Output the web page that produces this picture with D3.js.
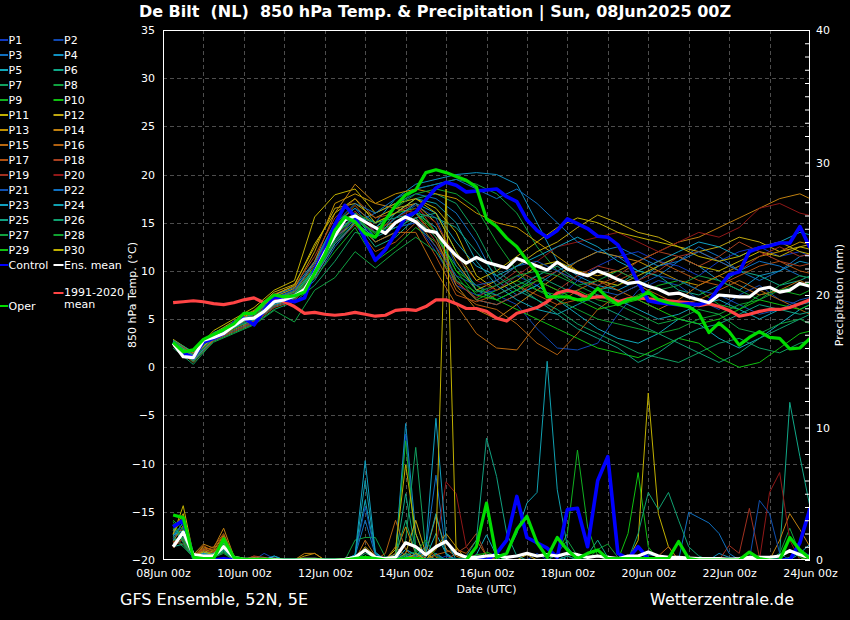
<!DOCTYPE html>
<html><head><meta charset="utf-8">
<script src="https://cdn.jsdelivr.net/npm/d3@7/dist/d3.min.js"></script>
<style>
html,body{margin:0;padding:0;background:#000;overflow:hidden}
svg{display:block}
text{font-family:"DejaVu Sans",sans-serif;fill:#fff}
</style></head><body>
<svg id="chart" width="850" height="620"></svg>
<script>
// ---------------- texts & ticks ----------------
const titleText = "De Bilt  (NL)  850 hPa Temp. & Precipitation | Sun, 08Jun2025 00Z";
const yLeftTitle = "850 hPa Temp. (°C)";
const yRightTitle = "Precipitation (mm)";
const xTitle = "Date (UTC)";
const footLeft = "GFS Ensemble, 52N, 5E";
const footRight = "Wetterzentrale.de";
const tempTicks = [-20,-15,-10,-5,0,5,10,15,20,25,30,35];
const precipTicks = [0,10,20,30,40];
const dateTicks = ["2025-06-08","2025-06-10","2025-06-12","2025-06-14","2025-06-16","2025-06-18","2025-06-20","2025-06-22","2025-06-24"];
const memberNames = ["P1","P2","P3","P4","P5","P6","P7","P8","P9","P10","P11","P12","P13","P14","P15","P16","P17","P18","P19","P20","P21","P22","P23","P24","P25","P26","P27","P28","P29","P30"];
const memberColors = ["#1038c0","#1048b0","#1070c0","#1090c0","#10a8b8","#10a888","#10a060","#10a040","#10b020","#10c010",
  "#c0b000","#c0a810","#c09000","#c08010","#b86810","#b06010","#b05010","#a84020","#a03020","#901818",
  "#1050b0","#1070c0","#10a0c0","#10a0b0","#10a080","#10a070","#10a040","#10a030","#10c010","#c0b000"];

// ---------------- highlighted series (6-hourly, 08Jun 06z .. 24Jun 00z) ----------------
const controlTemp = [2.6,1.5,1.0,2.6,3.0,3.5,4.6,5.1, 4.4,5.9,7.3,7.0,6.8,7.2,10.1,12.2, 14.8,16.8,15.6,13.2,11.1,12.2,13.9,15.6, 16.1,17.4,18.6,19.2,18.9,18.2,18.3,18.4,
  18.5,17.7,17.2,15.3,14.2,13.5,14.2,15.4, 14.9,14.4,13.6,13.5,12.7,10.9,8.8,6.9, 6.7,6.6,6.5,6.6,6.5,6.8,8.3,9.6, 9.9,12.0,12.4,12.6,12.9,12.9,14.6,12.4];
const operTemp = [2.6,1.6,1.8,2.9,3.4,3.9,4.5,5.6, 5.6,6.7,7.5,7.3,7.4,7.8,9.8,11.7, 14.2,15.6,15.1,13.9,13.5,15.3,16.8,17.9, 18.4,20.2,20.5,20.2,19.8,19.4,18.7,15.4,
  14.6,13.4,12.5,11.1,9.8,7.3,7.3,7.3, 7.0,7.1,8.2,7.2,6.5,7.0,7.2,7.8, 7.0,6.7,6.5,6.3,5.6,3.6,4.6,3.7, 2.3,3.1,3.7,3.1,3.0,1.9,2.0,3.0];
const meanTemp = [2.5,1.1,1.0,2.8,3.1,3.5,4.3,5.0, 5.1,5.8,6.8,7.0,7.4,8.1,9.8,11.9, 13.6,15.3,15.7,15.1,14.5,13.9,15.0,15.6, 15.1,14.2,14.0,12.7,11.6,10.8,11.4,10.9,
  10.6,10.3,11.3,10.9,10.5,10.1,10.9,10.2, 9.8,9.5,10.0,9.6,9.1,8.7,8.85,8.4, 8.1,7.6,7.7,7.3,7.0,6.7,7.5,7.4, 7.3,7.3,8.1,8.3,7.8,8.0,8.7,8.4];
const climTemp = [6.7,6.8,6.9,6.8,6.6,6.5,6.7,7.0, 7.2,6.7,7.2,6.8,6.3,5.6,5.7,5.5, 5.4,5.5,5.7,5.5,5.3,5.4,5.9,6.0, 5.9,6.3,7.0,7.0,6.6,6.1,6.1,5.8,
  5.1,4.8,5.6,5.9,6.2,6.8,7.7,8.0, 7.7,7.2,7.3,7.3,6.8,7.1,7.2,7.1, 7.0,6.9,6.8,6.7,6.4,6.6,6.3,5.9, 5.3,5.5,5.8,6.0,6.0,6.2,6.6,7.0];
const controlPrec = [2.5,3.0,0.2,0,0,0.1,0,0, 0,0,0,0,0,0,0,0, 0,0,0,0,0,0,0,0, 0,0,0,0,0,0,0,0,
  0.5,1.5,4.8,1.7,1.3,0.9,0.2,3.8, 3.9,1.0,6.0,7.8,0.5,0.1,1.0,0.1, 0,0,0,0,0,0,0,0, 0,0,0,0,0,0,1.3,3.9];
const operPrec = [3.4,3.2,0.2,0.1,0.1,1.6,0.2,0.05, 0.05,0.05,0,0,0,0,0,0, 0,0,0.1,0.2,0.1,0,0,0.1, 0.1,0,0,0,0,0,1.0,4.3,
  0.2,0.5,2.3,3.3,1.3,0.2,1.7,0.75, 0.1,0.5,0.75,0.1,0.1,0.1,0.1,0.1, 0.1,0.1,1.4,0.1,0,0,0,0, 0,0.6,0.1,0,0,1.7,0.75,0.1];
const meanPrec = [1.0,2.1,0.4,0.3,0.3,1.0,0.2,0.05, 0.05,0.05,0.05,0,0,0.05,0.05,0, 0,0.05,0.2,0.75,0.2,0.1,0.2,1.3, 1.0,0.4,1.0,1.4,0.5,0.2,0.2,0.3,
  0.35,0.2,0.3,0.5,0.3,0.4,0.3,0.5, 0.4,0.2,0.3,0.2,0.1,0.3,0.3,0.6, 0.3,0.2,0.2,0.15,0.1,0.1,0.1,0.05, 0.1,0.2,0.2,0.2,0.3,0.7,0.4,0.2];

// ---------------- perturbation temperatures (12-hourly, 08Jun 06z ..) ----------------
const P1_T  = [2.9,1.0,3.3,4.1,5.4,7.2,7.9,9.5,13.0,15.5,13.5,14.5,15.0,12.0,8.5,7.5,8.0,9.5,8.5,7.0,9.0,10.5,11.5,12.0,11.0,10.5,9.5,11.0,12.0,12.5,11.5,12.0,11.0];
const P2_T  = [2.6,1.4,3.5,4.6,5.6,7.4,8.1,10.8,14.8,16.5,14.0,15.5,16.8,15.5,10.5,8.5,7.5,6.5,4.0,2.0,1.8,2.5,5.5,8.0,9.0,8.5,7.0,6.0,7.5,8.5,7.0,6.5,7.5];
const P3_T  = [2.2,0.6,2.8,3.8,4.7,6.3,7.0,9.0,12.5,15.0,16.0,17.0,18.0,17.5,16.0,13.0,9.0,7.5,8.5,10.0,11.0,12.0,11.5,10.0,9.5,11.0,12.5,11.5,10.0,9.0,10.0,11.5,12.0];
const P4_T  = [2.7,1.2,3.6,4.5,5.7,7.5,8.3,11.0,15.0,16.5,15.0,17.5,19.0,19.5,20.0,20.2,20.0,19.0,15.0,11.0,9.5,8.5,8.0,9.0,10.5,11.5,10.5,9.0,8.0,9.5,10.0,11.0,10.5];
const P5_T  = [2.4,0.9,3.0,4.2,5.0,6.9,7.5,10.0,13.8,15.8,13.0,14.0,16.0,14.5,9.0,7.0,6.5,7.5,8.5,7.0,5.5,4.0,3.0,2.5,3.5,5.0,4.5,3.0,2.0,3.0,4.5,6.0,7.0];
const P6_T  = [2.8,1.5,3.2,4.4,5.5,7.0,7.6,10.2,14.0,15.2,12.5,13.5,15.5,16.0,12.0,8.0,7.0,8.0,9.5,10.5,9.0,8.0,8.5,10.0,9.5,8.0,7.5,8.5,10.0,9.5,8.5,9.0,10.0];
const P7_T  = [2.0,0.3,2.7,3.6,4.5,6.0,6.8,8.5,11.0,14.0,13.5,16.0,17.5,18.0,17.0,14.0,10.0,8.5,7.0,6.0,4.5,3.5,2.5,1.5,1.0,0.5,1.5,2.5,3.0,2.0,1.5,2.5,3.0];
const P8_T  = [2.5,1.0,3.1,4.3,5.2,6.6,7.3,9.6,13.2,15.5,14.5,16.5,18.5,19.0,19.5,19.0,18.0,16.0,12.5,10.0,8.5,7.5,6.5,5.5,4.5,5.0,6.0,5.5,4.0,3.5,4.5,5.0,4.0];
const P9_T  = [2.6,1.1,3.0,4.0,5.0,6.5,7.2,9.2,12.0,14.5,11.0,12.5,14.5,13.0,9.5,7.0,8.0,9.0,8.0,7.5,8.0,7.0,6.5,7.5,8.5,9.0,8.0,6.5,6.0,7.5,8.0,7.5,8.5];
const P10_T = [2.3,0.8,3.4,4.1,4.9,6.7,7.7,10.4,14.2,16.0,15.0,16.0,16.5,14.0,10.0,8.5,7.0,6.0,5.0,4.0,3.0,2.0,1.5,1.0,2.0,3.0,2.5,1.0,0.0,0.5,2.0,3.5,4.0];
const P11_T = [2.9,1.5,3.8,5.0,6.2,8.0,9.0,15.6,17.9,18.5,16.0,17.0,17.5,16.5,14.0,9.5,8.0,9.0,10.5,11.0,10.0,9.0,8.5,9.5,10.5,11.5,10.5,10.0,11.0,12.0,11.5,12.5,12.0];
const P12_T = [2.7,1.3,3.5,4.8,5.9,7.8,8.6,12.5,16.5,17.0,15.5,16.5,17.0,15.0,11.0,8.0,9.0,10.5,12.0,13.0,14.5,15.8,15.0,14.0,13.5,12.5,12.0,12.5,13.5,13.0,12.0,12.5,13.0];
const P13_T = [2.5,1.2,3.3,4.5,5.6,7.3,8.2,12.0,17.0,18.0,17.0,18.0,18.5,18.0,17.5,16.0,15.0,14.5,13.0,11.5,10.0,9.5,10.0,11.0,10.0,9.0,8.5,9.5,10.5,11.5,12.0,13.0,12.5];
const P14_T = [2.4,0.9,3.0,4.2,5.3,6.9,7.8,11.0,16.0,19.0,17.0,16.5,16.0,13.5,8.5,6.0,5.0,6.5,8.0,9.5,11.0,12.0,11.5,11.0,12.0,13.0,13.5,14.5,15.5,16.5,17.5,18.0,17.0];
const P15_T = [2.2,0.7,2.9,3.9,4.8,6.4,7.1,9.8,13.5,15.0,13.0,14.0,14.0,10.0,6.5,3.5,2.0,1.8,4.5,6.5,8.0,9.0,8.0,7.0,6.0,7.0,8.5,9.5,8.5,7.5,8.0,9.0,8.0];
const P16_T = [2.6,1.0,3.2,4.4,5.5,7.1,7.9,10.6,14.6,16.8,14.5,15.0,15.5,12.5,8.0,6.5,6.0,4.5,2.5,1.3,3.5,6.0,7.5,8.5,7.5,6.5,7.0,8.0,9.0,8.0,7.0,6.0,5.0];
const P17_T = [2.3,0.5,2.8,3.7,4.6,6.2,6.9,9.3,12.8,14.8,12.0,13.0,15.0,11.5,7.5,6.8,7.5,8.5,7.5,6.5,7.0,8.0,9.0,10.0,11.0,10.0,9.0,8.5,9.5,10.5,11.0,10.0,9.5];
const P18_T = [2.8,1.4,3.4,4.7,5.8,7.6,8.4,11.5,15.5,17.5,15.5,16.0,17.0,14.0,9.0,7.0,6.5,7.5,9.0,10.0,9.0,8.5,9.5,11.0,12.0,11.5,10.5,11.5,13.0,12.0,11.0,10.5,11.0];
const P19_T = [2.5,0.8,3.1,4.0,5.1,6.6,7.4,9.9,13.9,16.2,14.0,15.0,16.0,13.0,8.8,7.2,8.5,10.0,9.0,8.0,9.5,10.5,10.0,9.0,10.0,11.5,12.0,11.0,10.0,11.5,12.5,11.5,12.0];
const P20_T = [2.7,1.2,3.3,4.4,5.4,7.0,7.7,10.0,13.5,15.5,14.0,15.5,16.5,15.0,11.5,9.0,8.0,9.5,11.0,12.5,13.0,13.5,14.0,13.0,12.0,13.0,14.0,13.5,14.5,16.5,17.0,16.0,15.5];
const P21_T = [2.4,1.0,3.2,4.2,5.0,6.6,7.3,9.7,13.4,15.4,14.0,14.5,15.0,12.5,9.5,8.5,9.0,10.5,11.0,10.0,9.0,8.0,7.5,8.5,9.5,9.0,8.0,7.5,6.5,5.5,6.0,7.0,7.5];
const P22_T = [2.6,1.1,3.4,4.5,5.5,7.2,8.0,10.8,14.9,17.0,16.0,17.5,18.5,19.0,19.5,18.5,17.5,18.5,17.0,15.0,13.0,12.0,12.5,11.5,10.5,11.0,12.0,11.0,10.0,11.0,10.5,9.5,9.0];
const P23_T = [2.3,0.7,3.0,4.1,4.9,6.5,7.2,9.4,12.8,15.0,13.5,15.5,17.0,16.0,13.0,10.5,9.5,10.5,11.5,12.5,13.5,12.5,11.0,10.0,11.0,12.0,13.0,12.5,11.5,12.5,13.0,14.0,13.5];
const P24_T = [2.7,1.2,3.1,4.3,5.3,6.9,7.6,10.1,13.8,15.6,14.5,16.0,17.5,17.0,15.0,11.0,8.5,7.0,6.0,5.5,6.5,7.5,7.0,6.0,5.0,5.5,6.5,7.0,6.0,5.0,6.0,6.5,7.0];
const P25_T = [2.5,1.3,3.2,4.4,5.2,6.8,7.5,9.9,13.6,15.7,15.0,15.5,16.0,15.5,14.5,12.0,9.5,8.0,7.0,5.5,4.0,3.0,2.0,0.5,1.5,3.0,4.0,4.5,5.5,6.5,6.0,5.5,6.0];
const P26_T = [2.8,1.6,3.5,4.6,5.5,7.1,7.8,10.3,14.3,16.0,13.5,14.5,15.5,13.5,10.5,8.0,7.5,8.5,9.5,8.5,7.5,6.5,5.5,4.5,3.5,2.5,1.5,0.5,1.5,3.0,4.0,5.0,6.0];
const P27_T = [2.3,0.6,2.6,3.5,4.4,5.9,4.7,8.0,9.3,12.0,10.3,12.0,13.5,12.0,9.0,7.8,8.5,9.5,10.0,9.5,8.5,9.0,10.0,9.0,8.0,8.5,9.5,9.0,8.0,7.0,8.5,9.5,9.0];
const P28_T = [2.4,0.9,3.0,4.0,5.1,6.7,7.4,9.6,13.0,15.2,14.0,16.5,18.0,18.5,18.0,16.5,13.0,10.0,8.0,7.0,6.0,5.0,4.5,4.0,3.5,4.0,5.0,5.5,6.5,7.0,8.0,8.5,9.0];
const P29_T = [2.6,1.1,3.3,4.3,5.3,6.8,7.5,10.0,13.7,15.6,13.8,15.0,16.0,14.0,10.0,7.5,7.0,8.0,9.0,8.0,7.0,6.0,6.5,7.0,6.0,5.0,4.5,5.0,6.0,7.0,6.5,6.0,7.0];
const P30_T = [2.5,1.1,3.2,4.6,5.8,7.5,8.5,12.8,16.0,17.5,15.0,16.0,17.5,16.0,12.0,9.0,10.0,11.5,13.0,14.5,15.5,15.0,14.0,13.5,13.0,12.5,11.5,11.0,11.5,12.5,13.0,12.0,11.5];

// ---------------- perturbation precipitation (6-hourly, 08Jun 06z ..) ----------------
const P1_R  = [1.5,2.5,0.3,0.5,0.4,1.0,0.1,0, 0,0.1,0,0,0,0,0,0, 0,0,0,0,0,0,0.5,9.5, 1.0,0,0,0.3,0,0,0,0, 0,0,0,0,0.5,0,0,0, 0,0,0,0,0,0,0,0, 0,0,0,0,0,0,0,0, 0,0,0,0,0,0,0,0.5];
const P2_R  = [2.0,1.8,0.2,0.3,0.2,0.6,0.1,0, 0,0.5,0.1,0,0,0,0,0, 0,0,0,0,0,0,0,0.8, 0.3,0,0.4,0,0,0,0,0.3, 0,0,0,0,0,0,0,0, 0,0,0,0,0.2,0,0,0, 0,0,0,0,0,0,0,0, 0,0,0,0,0,0,0.8,0.3];
const P3_R  = [1.2,2.2,0.4,0.6,0.3,0.8,0,0, 0,0,0,0,0,0,0,0, 0,0,0.3,3.0,0.4,0,0,0.5, 0.2,0.8,6.4,0.5,0,0,0,0, 0,0,0,0,0,0,0,0.3, 0,0,0,0,0,0,0,0, 0,0,0,0,0,0,0,0, 0,0,0,0,0,0,0,0];
const P4_R  = [2.2,1.5,0.3,0.4,0.5,1.2,0.2,0, 0,0,0.3,0,0,0,0,0, 0,0,0,0.8,0,0.2,0.4,10.3, 2.0,0,0.5,0,0,0,0.3,0, 0,0,0,0,0,0,0.4,0, 0,0,0,0,0,0,0,0, 0,0,0,0,0,0,0.5,0.2, 0,0,0,0,0,0,0,0];
const P5_R  = [1.8,2.8,0.3,0.6,0.5,1.4,0.1,0, 0,0,0,0,0,0,0,0, 0,0,0.3,4.5,0.5,0,0,0.8, 0.4,0.2,2.0,0.5,0,0,0.4,1.9, 0.3,0,0,0,0,0,0,0, 0,0,0,0,0,0,0,0.4, 0.3,0,0,0,0,0,0,0, 0,0,0,0,0,0.2,0.6,0];
const P6_R  = [1.0,1.2,0.2,0.3,0.2,0.7,0.1,0, 0,0,0,0,0,0,0,0, 0,0,0,0,0,0,0.2,5.0, 0.6,0,0,0,0,0,0,0, 0,0,0,0,0,0,0,0, 0,0.4,1.5,0.2,0,0,0,0, 0,0,0,0,0,0,0,0, 0,0,0,0,0.5,11.9,7.8,4.0];
const P7_R  = [1.6,1.0,0.2,0.4,0.3,0.9,0.1,0, 0,0,0,0,0,0,0,0, 0,0,0,0.5,0.2,0,0,1.5, 8.5,0.6,0,0,0,0,0,0, 0,0,0,0,0,0,0,0.3, 0,0,0,0,0,0,0,0, 0,0,0,0,0,0,0,0, 0,0,0,0,0,0,0,0];
const P8_R  = [2.4,1.6,0.3,0.5,0.4,1.1,0.2,0, 0,0,0,0,0,0,0,0, 0,0,1.5,1.7,1.7,0.2,0,0, 0,0,0,0,0,0,0,0, 0,0,0,0,0,0,0,0, 0,0,0,0,0,0,0,0, 0,0,0,0,0,0,0,0, 0,0,0,0,0.5,2.4,0.5,0];
const P9_R  = [1.3,2.0,0.3,0.2,0.3,0.6,0,0, 0,0,0,0,0,0,0,0, 0,0,0,0,0,0,0.3,9.0, 0.8,0,0,0,0,0,0,0, 0,0,0,0,0,0,0.5,2.0, 8.3,2.5,0.3,0,0,0,0,0, 0,0,0,0,0,0,0,0, 0,0,0,0,0,0,0,0];
const P10_R = [2.7,1.4,0.2,0.3,0.2,0.8,0.1,0, 0,0,0,0,0,0,0,0, 0,0,0,0,0,0,0,0, 0,0,0,0,0,0,0.4,0.5, 0,0,0,0,0,0,0,0, 0,0,0,0,0,2.0,6.6,1.0, 0,0,0,0,0,0,0,0, 0,0,0,0,0,0,0,0];
const P11_R = [1.9,4.1,0.4,0.7,0.5,1.6,0.2,0, 0,0,0,0,0,0,0,0, 0,0,0,0,0,0,0.8,7.2, 2.0,0,0,0,0,0,0,0, 0,0,0,0,0,0,0,0, 0,0,0,0,0,0,1.5,12.6, 3.5,1.0,0,0,0,0,0,0, 0,0,0,0,0,0,0,0];
const P12_R = [2.2,3.5,0.3,0.8,0.6,1.3,0.1,0, 0,0,0,0,0,0,0,0, 0,0,0,1.0,0.3,0,0,0.5, 3.0,0.5,0,0,0,0,0,0, 0,0,0,0.4,0,0,0,0, 0,0,0,0,0,0,0,0, 0,0,0,0,0,0,0,0, 0,0,0,0,0,0,0,0.4];
const P13_R = [1.4,2.6,0.3,1.0,0.7,1.8,0.2,0, 0,0,0,0,0,0.3,0.5,0, 0,0,0,0,0,0,0.5,2.5, 0.5,0,0.8,2.0,1.0,0,0,0, 0,0,0,0,0,0,0,0, 0,0,0,0,0,0,0,0, 0,0,0,0,0,0,0,0, 0,0,0,0,0,0,0,0];
const P14_R = [1.1,1.9,0.4,1.2,0.9,2.4,0.3,0, 0,0,0,0,0,0.5,0.5,0, 0,0,0,0,0,0,1.0,0.3, 0.2,0.5,3.3,0.8,0.3,0,0,0, 0,0,0,0,0,0,0,0, 0,0,0,0,0,0,0,0, 0,0,0,0,0,0,0,0, 0,0,0,0,1.5,3.5,2.3,1.0];
const P15_R = [1.7,2.3,0.3,0.9,0.8,1.9,0.2,0, 0,0,0,0,0,0,0,0, 0,0,0,1.5,0.3,0,0,0, 0,0,0,0,0,0,0,0, 0,0,0,0,0,0,0,0, 0,0,0,0,0,0,0,0, 0,0,0,0,0,0,0,0, 0,0,0,0,0,0,0,0];
const P16_R = [1.3,2.0,0.2,0.7,1.0,2.0,0.3,0, 0,0,0,0,0,0,0,0, 0,0,0,0,0,0.5,3.0,0.8, 0,0,0.4,0.6,0.8,0.5,1.5,0.3, 0,0,0,0,0,0,0,0, 0,0,0,0,0,0,0,0, 0.3,1.0,0,0,0,0,0,0, 0,0,0,0,0,0,0,0];
const P17_R = [0.9,1.7,0.2,1.1,0.6,1.5,0.2,0, 0.2,0,0,0,0,0,0,0, 0,0,0,0,0,0,0,0, 0.3,1.0,0.2,0,0.5,0,0,0, 0,0,0,0,0,0,0,0, 0,0,0,0,0,0,0,0, 0,0,0,0,0,0,0,0, 0,0,0,0,0,0,0,0];
const P18_R = [1.0,2.1,0.3,0.8,0.5,1.7,0.1,0, 0.3,0.2,0,0,0,0,0,0, 0,0,0,0,0,0,0,0, 0,0,0,0,0.5,1.0,2.0,0.3, 0,0,0,0,0,0,0,0, 0,0,0,0,0,0,0,0, 0,0,0,0,0,0,0,0, 0,0,0,0,0,0,0,0];
const P19_R = [1.2,1.5,0.2,0.5,0.4,1.2,0.1,0, 0.3,0,0,0,0,0,0,0, 0,0,0,0,0,0,0,0, 0,0,0,0,0,0,0,0, 0,0,0,0,0,0,0,0, 0,0,0,0,0,0,0,0, 0,0,0,0,0,0,0,1.1, 0.5,3.9,0.2,0,0,0,0,0];
const P20_R = [1.4,1.2,0.2,0.4,0.3,0.9,0.1,0, 0,0,0,0,0,0,0,0, 0,0,0,0,0,0,0,0, 0,0.3,1.0,5.9,5.0,1.0,0,0, 0,0,0,0,0,0,0,0, 0,0,0,0,0,0,0,0, 0,0,0,0,0,0,0,0, 0,0,0,5.1,6.6,1.5,0,0];
const P21_R = [2.1,2.4,0.3,0.4,0.3,0.9,0.1,0, 0,0,0,0,0,0,0,0, 0,0,0.4,4.0,0.5,0,0,0, 0,0,0,0,0,0,0,0, 0,0,0,0,0,0,0,0, 0,0,0,0,0,0,0,0, 0,0,0,0,0,0,0,0, 0,0,4.5,3.5,0.5,0,0,0];
const P22_R = [1.6,2.9,0.3,0.5,0.4,1.1,0.1,0, 0,0,0,0,0,0,0,0, 0,0,0,0,0,0,0,0, 0,0,0,0,0,0,0,0, 0,0,0,0,0,0,0,0, 0,0,0,0,0,0,0,0, 0,0,0,3.6,3.2,2.8,2.0,0.5, 0,0,0,0,0,0,0,0];
const P23_R = [1.9,2.2,0.3,0.5,0.4,1.3,0.1,0, 0,0,0.3,0,0,0,0,0, 0,0,0.4,7.5,0.6,0,0,0.4, 0.3,1.0,10.7,1.5,0,0,0,0, 0,0,0,0,0,0,0,0, 0,0,0,0,0,0,0,0, 0,0,0,0,0,0,0,0, 0,0,0,0,0,0,0.5,1.2];
const P24_R = [2.3,1.9,0.3,0.4,0.5,1.0,0.1,0, 0,0,0,0,0,0,0,0, 0,0,0.3,6.0,0.5,0,0,0.3, 0,0.5,3.5,0.4,0,0,0,0, 0,0.5,2.0,4.3,5.1,15.0,5.3,1.0, 0,0,0,0,0,0,0,0, 0,0,0,0,0,0,0,0, 0,0,0,0,0,0,0,0];
const P25_R = [1.5,1.7,0.2,0.3,0.3,0.8,0.1,0, 0,0,0,0,0,0,0,0, 0,0,0,0,0,0,0,0, 0,0,0,0,0,0.3,1.5,9.2, 6.3,2.0,0.3,0,0,0,0,0, 0,0,0,0,0,0,0,0, 0,0,0,0,0,0,0,0, 0,0,0,0,0,0,0,0];
const P26_R = [2.6,1.3,0.2,0.3,0.2,0.7,0.1,0, 0,0,0,0,0,0,0,0, 0,0,0,0,0,0,0.3,3.0, 0.5,0,0,0,0,0,0,0, 0,0,0,0,0,0,0,0, 0,0,0,0,0,0,2.0,5.1, 3.8,5.1,3.0,1.0,0.3,0,0,0, 0,0,0,0,0,0,0,0];
const P27_R = [1.8,1.1,0.2,0.2,0.2,0.5,0,0, 0,0,0,0,0,0,0,0, 0,0,0,0,0,0,0,0, 0,0,0,0,0,0,0,0, 0,0,0,0,0,0,0.5,1.5, 0.3,0,0,0,0,0,0,0, 0,0,0,0,0,0,0,0, 0,0,0,0,0,0,0,0];
const P28_R = [2.9,1.5,0.3,0.4,0.3,1.0,0.1,0, 0,0,0,0,0,0,0,0, 0,0,0,0,0,0,0,0.4, 0.6,1.5,0.3,0,0,0,0,0, 0,0,0,0,0,0,0,0, 0,0,0.8,1.2,0.2,0,0,0, 0,0,0,0,0,0,0,0, 0,0,0,0,0,0,0,0];
const P29_R = [3.0,2.3,0.2,0.3,0.3,1.2,0.1,0, 0,0,0,0,0,0,0,0, 0,0,0,0,0,0,0,0, 0,0,0,0,0,0,0,0.6, 0.3,0,0,0,0,0,0,0, 0,0,0,0,0,0,0,0, 0,0,0,0,0,0,0,0, 0,0,0,0,0,0.8,0.2,0];
const P30_R = [2.0,3.3,0.3,0.6,0.4,1.4,0.1,0, 0,0,0,0,0,0,0,0, 0,0,0,0,0,0,0,0, 0.5,0,1.0,28.0,0.5,0,0,0, 0,0,0,0,0,0,0,0, 0,0,0,0,0,0,0,0, 0,0,0,0,0,0,0,0, 0,0,0,0,0,0,0,0];

const memberTemps = [P1_T,P2_T,P3_T,P4_T,P5_T,P6_T,P7_T,P8_T,P9_T,P10_T,P11_T,P12_T,P13_T,P14_T,P15_T,P16_T,P17_T,P18_T,P19_T,P20_T,P21_T,P22_T,P23_T,P24_T,P25_T,P26_T,P27_T,P28_T,P29_T,P30_T];
const memberPrecs = [P1_R,P2_R,P3_R,P4_R,P5_R,P6_R,P7_R,P8_R,P9_R,P10_R,P11_R,P12_R,P13_R,P14_R,P15_R,P16_R,P17_R,P18_R,P19_R,P20_R,P21_R,P22_R,P23_R,P24_R,P25_R,P26_R,P27_R,P28_R,P29_R,P30_R];

// ---------------- drawing ----------------
const W = 850, H = 620;
const X0 = 163, X1 = 810, Y0 = 30, Y1 = 560;
const T0 = Date.UTC(2025,5,8), T1 = Date.UTC(2025,5,24), H6 = 6*3600*1000;
const x = d3.scaleUtc().domain([new Date(T0), new Date(T1)]).range([X0, X1]);
const yT = d3.scaleLinear().domain([-20,35]).range([Y1, Y0]);
const yP = d3.scaleLinear().domain([0,40]).range([Y1, Y0]);
const tHi = d3.range(64).map(i => new Date(T0 + (i+1)*H6));
const tMem = d3.range(33).map(k => new Date(T0 + (1+2*k)*H6));

const svg = d3.select("#chart");
svg.append("rect").attr("width", W).attr("height", H).attr("fill", "#000");
svg.append("defs").append("clipPath").attr("id","clip")
  .append("rect").attr("x", X0).attr("y", Y0).attr("width", X1-X0).attr("height", Y1-Y0);

// grid
const grid = svg.append("g").attr("stroke","#4d4d4d").attr("stroke-width",1).attr("stroke-dasharray","4,3");
grid.selectAll("line.h").data(tempTicks.slice(1,-1)).join("line").attr("class","h")
  .attr("x1", X0).attr("x2", X1)
  .attr("y1", d => Math.round(yT(d))+0.5).attr("y2", d => Math.round(yT(d))+0.5);
grid.selectAll("line.v").data(d3.utcDay.range(new Date(T0+86400000), new Date(T1))).join("line").attr("class","v")
  .attr("y1", Y0).attr("y2", Y1)
  .attr("x1", d => Math.round(x(d))+0.5).attr("x2", d => Math.round(x(d))+0.5);

// series
const plot = svg.append("g").attr("clip-path","url(#clip)");
const lineOf = (times, ys) => d3.line().x((d,i) => x(times[i])).y(d => ys(d));
memberTemps.forEach((arr,k) => {
  plot.append("path").attr("d", lineOf(tHi, yP)(memberPrecs[k]))
    .attr("fill","none").attr("stroke", memberColors[k]).attr("stroke-width",1);
  plot.append("path").attr("d", lineOf(tMem, yT)(arr))
    .attr("fill","none").attr("stroke", memberColors[k]).attr("stroke-width",1);
});
const thick = [
  [climTemp, yT, "#ff4444", 3.2],
  [controlPrec, yP, "#0000ff", 3.6],
  [controlTemp, yT, "#0000ff", 3.6],
  [meanPrec, yP, "#ffffff", 3.2],
  [meanTemp, yT, "#ffffff", 3.2],
  [operPrec, yP, "#00dd00", 3.2],
  [operTemp, yT, "#00dd00", 3.2]
];
thick.forEach(([arr, sc, col, w]) => {
  plot.append("path").attr("d", lineOf(tHi, sc)(arr))
    .attr("fill","none").attr("stroke", col).attr("stroke-width", w).attr("stroke-linejoin","round");
});

// frame
svg.append("rect").attr("x", X0+0.5).attr("y", Y0+0.5).attr("width", X1-X0-1).attr("height", Y1-Y0-1)
  .attr("fill","none").attr("stroke","#fff").attr("stroke-width",1);

// axes
const styleAxis = g => { g.attr("font-family","DejaVu Sans").attr("font-size",11).attr("color","#fff"); g.select(".domain").remove(); };
svg.append("g").attr("transform",`translate(${X0},0)`)
  .call(d3.axisLeft(yT).tickValues(tempTicks).tickSize(0).tickPadding(8)).call(styleAxis);
svg.append("g").attr("transform",`translate(${X1},0)`)
  .call(d3.axisRight(yP).tickValues(precipTicks).tickSize(0).tickPadding(6)).call(styleAxis);
svg.append("g").attr("transform",`translate(${X1},0)`)
  .call(d3.axisLeft(yP).tickValues(d3.range(0,41)).tickSize(5).tickFormat("")).call(styleAxis);
svg.append("g").attr("transform",`translate(0,${Y1})`)
  .call(d3.axisBottom(x).tickValues(dateTicks.map(s => new Date(s+"T00:00:00Z")))
    .tickFormat(d3.utcFormat("%d%b %Hz")).tickSize(0).tickPadding(9)).call(styleAxis);

// axis titles
svg.append("text").attr("transform",`translate(136,${(Y0+Y1)/2}) rotate(-90)`).attr("text-anchor","middle")
  .attr("font-size",11).text(yLeftTitle);
svg.append("text").attr("transform",`translate(843,${(Y0+Y1)/2}) rotate(-90)`).attr("text-anchor","middle")
  .attr("font-size",11).text(yRightTitle);
svg.append("text").attr("x",(X0+X1)/2).attr("y",593).attr("text-anchor","middle").attr("font-size",11).text(xTitle);

// title & footer
svg.append("text").attr("x",435).attr("y",17).attr("text-anchor","middle").attr("font-size",16)
  .attr("font-weight","bold").style("white-space","pre").text(titleText);
svg.append("text").attr("x",120).attr("y",605).attr("font-size",16).text(footLeft);
svg.append("text").attr("x",650).attr("y",605).attr("font-size",16).text(footRight);

// legend
const leg = svg.append("g").attr("font-size",11);
const legItem = (lx, ly, col, label) => {
  leg.append("line").attr("x1",lx).attr("x2",lx+10).attr("y1",ly).attr("y2",ly).attr("stroke",col).attr("stroke-width",2);
  leg.append("text").attr("x",lx+10.5).attr("y",ly+4).text(label);
};
memberNames.forEach((n,k) => legItem(k%2 ? 53.5 : -2, 40 + Math.floor(k/2)*15, memberColors[k], n));
legItem(-2, 265, "#0000ff", "Control");
legItem(53.5, 265, "#ffffff", "Ens. mean");
legItem(-2, 306, "#00dd00", "Oper");
leg.append("line").attr("x1",53.5).attr("x2",63.5).attr("y1",293).attr("y2",293).attr("stroke","#ff4444").attr("stroke-width",2);
leg.append("text").attr("x",64).attr("y",296).text("1991-2020");
leg.append("text").attr("x",64).attr("y",308).text("mean");
</script>
</body></html>
